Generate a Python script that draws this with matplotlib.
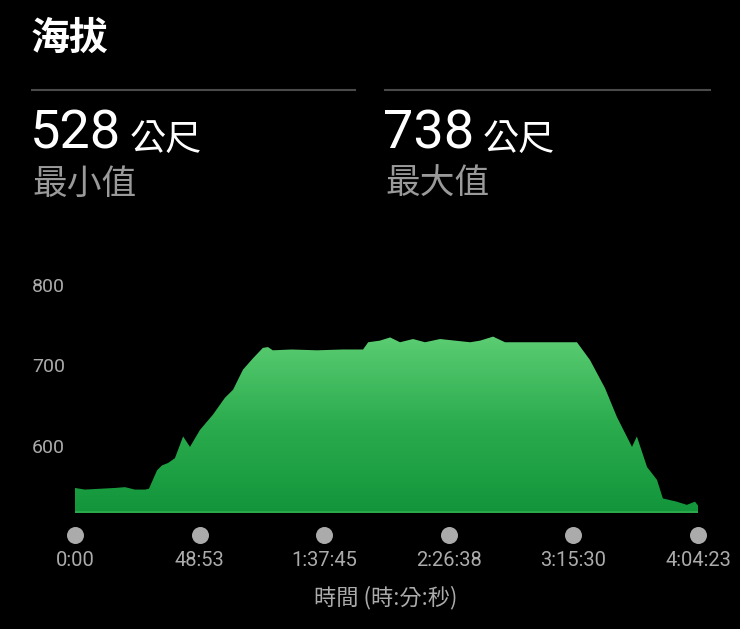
import numpy as np
import matplotlib
matplotlib.use("Agg")
import matplotlib.pyplot as plt
from matplotlib.colors import LinearSegmentedColormap
from matplotlib.patches import Polygon

plt.rcParams['font.family'] = ['Noto Sans CJK TC', 'DejaVu Sans']

# === DATA ===
# time in minutes, elevation in metres
time_min = [0.0, 3.9, 9.8, 15.7, 19.6, 23.5, 27.5, 29.0, 32.2, 34.1, 36.5, 39.2,
            42.4, 45.1, 49.0, 54.1, 58.8, 62.0, 65.9, 69.8, 73.7, 75.7, 77.6,
            85.0, 95.0, 105.0, 113.0, 115.0, 119.6, 123.6, 127.5, 132.6, 137.3,
            143.2, 149.1, 155.0, 158.9, 164.0, 168.7, 174.6, 184.4, 196.9, 202.0,
            207.9, 212.6, 218.5, 220.4, 224.4, 228.3, 230.6, 236.0, 240.0, 243.2,
            244.4]
elevation = [550, 548, 549, 550, 551, 548, 548, 549, 572, 578, 581, 587,
             614, 601, 622, 641, 662, 672, 697, 711, 724, 725, 721,
             722, 721, 722, 722, 731, 733, 737, 731, 735, 731,
             735, 733, 731, 733, 738, 731, 731, 731, 731, 709,
             674, 638, 601, 614, 576, 560, 537, 533, 529, 533,
             528]

y_ticks = [600, 700, 800]
x_tick_labels = ['0:00', '48:53', '1:37:45', '2:26:38', '3:15:30', '4:04:23']
total_min = 244.383
x_ticks = np.linspace(0, total_min, len(x_tick_labels))

min_val, max_val = 528, 738

# === FIGURE ===
W, H = 740, 629
fig = plt.figure(figsize=(W / 100, H / 100), dpi=100)
fig.patch.set_facecolor('black')

def fx(px):
    return px / W

def fy(py):
    return 1 - py / H

label_grey = '#ababab'
num_font = ['Roboto', 'Noto Sans CJK TC']

# header texts
fig.text(fx(31), fy(38), '海拔', color='white', fontsize=28, fontweight='bold',
         va='center', ha='left')
for x0, x1 in [(32, 355), (385, 710)]:
    fig.add_artist(plt.Line2D([fx(x0), fx(x1)], [fy(90), fy(90)],
                              color='#4a4a4a', lw=1.5))

for x0, val, lab in [(32, min_val, '最小值'), (385, max_val, '最大值')]:
    fig.text(fx(x0 - 2), fy(149), f'{val}', color='white', fontsize=39,
             va='baseline', ha='left', family=num_font)
    fig.text(fx(x0 + 98), fy(150), '公尺', color='white', fontsize=26,
             va='baseline', ha='left')
    fig.text(fx(x0), fy(184), lab, color='#9a9a9a', fontsize=25,
             va='center', ha='left')

# === CHART ===
ax_bottom, ax_top = 513, 280
ax = fig.add_axes([fx(75), fy(ax_bottom), fx(698) - fx(75), (ax_bottom - ax_top) / H])
ax.set_facecolor('black')
y_lo = 800 - (ax_bottom - 286.7) / 0.805
y_hi = 800 + (286.7 - ax_top) / 0.805
ax.set_xlim(0, total_min)
ax.set_ylim(y_lo, y_hi)
for s in ax.spines.values():
    s.set_visible(False)

# gradient fill clipped to the profile
verts = [(time_min[0], y_lo)] + list(zip(time_min, elevation)) + [(time_min[-1], y_lo)]
poly = Polygon(verts, closed=True, facecolor='none', edgecolor='none')
ax.add_patch(poly)
cmap = LinearSegmentedColormap.from_list('elev', ['#12953b', '#2bac4e', '#5ccd73'])
grad = np.linspace(0, 1, 256).reshape(-1, 1)
img = ax.imshow(grad, cmap=cmap, origin='lower', aspect='auto',
                extent=[0, total_min, y_lo, 740], interpolation='bicubic')
img.set_clip_path(poly)
ax.plot([time_min[0], time_min[-1]], [y_lo + 0.8, y_lo + 0.8], color='#2aa84b', lw=1.5)

# y tick labels, left aligned at the figure margin
ax.set_yticks([])
ytrans = ax.get_yaxis_transform()
for v in y_ticks:
    ax.text(-43 / 623, v, str(v), transform=ytrans, color=label_grey, fontsize=14,
            ha='left', va='center', family=num_font)

ax.set_xticks([])
trans = ax.get_xaxis_transform()
dot_y = -(535 - ax_bottom) / (ax_bottom - ax_top)
lab_y = -(560 - ax_bottom) / (ax_bottom - ax_top)
ax.scatter(x_ticks, [dot_y] * len(x_ticks), s=150, color=label_grey,
           transform=trans, clip_on=False, zorder=5, linewidths=0)
for xt, lab in zip(x_ticks, x_tick_labels):
    ax.text(xt, lab_y, lab, transform=trans, color=label_grey, fontsize=14.5,
            ha='center', va='center', family=num_font)

fig.text(fx(386), fy(598), '時間 (時:分:秒)', color=label_grey, fontsize=16,
         ha='center', va='center')

fig.savefig('out.png', dpi=100, facecolor='black')
